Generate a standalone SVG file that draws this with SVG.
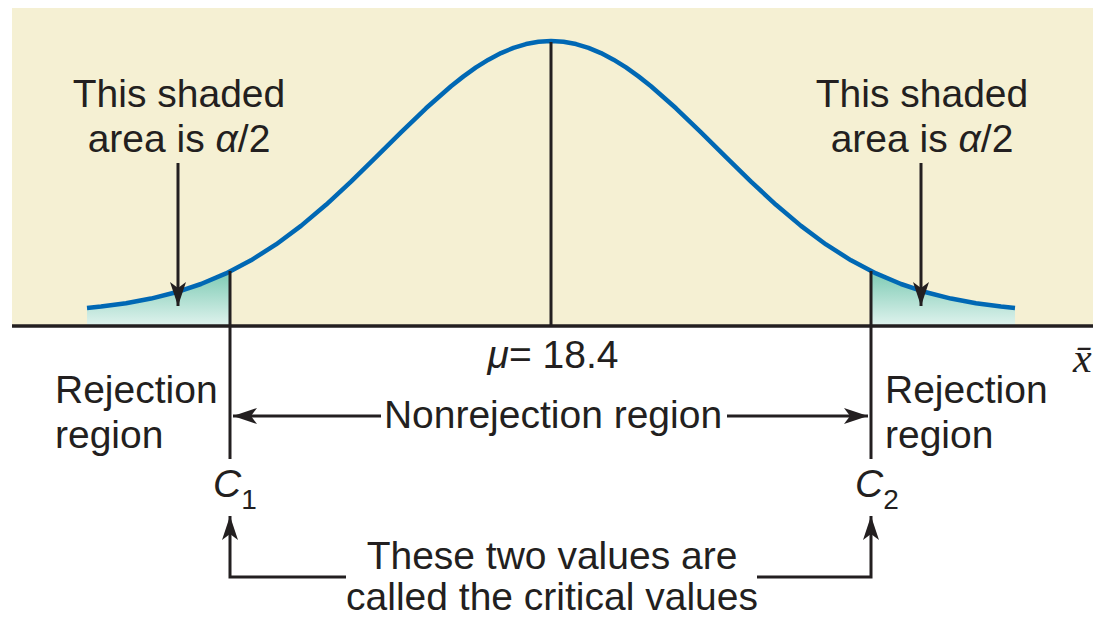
<svg xmlns="http://www.w3.org/2000/svg" width="1093" height="618" viewBox="0 0 1093 618">
<style>
.t{font-family:"Liberation Sans",Arial,sans-serif;font-size:39px;fill:#231f20}
.it{font-style:italic}
.ln{stroke:#231f20;stroke-width:3;fill:none}
</style>
<defs>
<linearGradient id="shade" x1="0" y1="0" x2="0" y2="1">
<stop offset="0" stop-color="#7ccab3"/>
<stop offset="1" stop-color="#e0f3ee"/>
</linearGradient>
<marker id="ah" viewBox="0 0 24 16" refX="24" refY="8" markerWidth="24" markerHeight="16" markerUnits="userSpaceOnUse" orient="auto">
<path d="M24,8 L0,0 L6,8 L0,16 Z" fill="#231f20"/>
</marker>
</defs>
<rect width="1093" height="618" fill="#ffffff"/>
<g id="background">
<rect x="12" y="8" width="1081" height="318" fill="#f5f0d3"/>
</g>
<g id="shaded-left">
<polygon fill="url(#shade)" points="87,326 87,308.03 101,306.6 126,303.23 151,298.57 176,292.27 201,284.01 226,273.43 230,271.3 230,326"/>
</g>
<g id="shaded-right">
<polygon fill="url(#shade)" points="871,326 871,270.8 876,273.43 901,284.01 926,292.27 951,298.57 976,303.23 1001,306.6 1015,308.03 1015,326"/>
</g>
<g id="curve">
<path fill="none" stroke="#0068b4" stroke-width="4.5" stroke-linejoin="round" d="M87,308.03 L101,306.6 L126,303.23 L151,298.57 L176,292.27 L201,284.01 L226,273.43 L251,260.31 L276,244.44 L301,225.86 L326,204.79 L351,181.66 L376,157.21 L401,132.37 L426,108.29 L451,86.23 L463.5,76.36 L476,67.45 L488.5,59.65 L501,53.09 L513.5,47.87 L526,44.07 L538.5,41.77 L551,41 L563.5,41.77 L576,44.07 L588.5,47.87 L601,53.09 L613.5,59.65 L626,67.45 L638.5,76.36 L651,86.23 L676,108.29 L701,132.37 L726,157.21 L751,181.66 L776,204.79 L801,225.86 L826,244.44 L851,260.31 L876,273.43 L901,284.01 L926,292.27 L951,298.57 L976,303.23 L1001,306.6 L1015,308.03"/>
</g>
<g id="axis">
<line x1="12" y1="326" x2="1093" y2="326" stroke="#231f20" stroke-width="3.5"/>
<text x="1073" y="372" font-family="'Liberation Serif',serif" font-style="italic" font-size="42" fill="#231f20">x̄</text>
</g>
<g id="connectors">
<line class="ln" x1="551" y1="42" x2="551" y2="326"/>
<line class="ln" x1="230" y1="271" x2="230" y2="459"/>
<line class="ln" x1="871" y1="271" x2="871" y2="459"/>
<line class="ln" x1="178" y1="163" x2="178" y2="306" marker-end="url(#ah)"/>
<line class="ln" x1="921" y1="163" x2="921" y2="306" marker-end="url(#ah)"/>
<line class="ln" x1="381" y1="416" x2="233" y2="416" marker-end="url(#ah)"/>
<line class="ln" x1="727" y1="416" x2="868" y2="416" marker-end="url(#ah)"/>
<polyline class="ln" points="346,577 230,577 230,516" marker-end="url(#ah)"/>
<polyline class="ln" points="757,577 871,577 871,516" marker-end="url(#ah)"/>
</g>
<g id="label-left-area">
<text class="t" x="179" y="107" text-anchor="middle">This shaded</text>
<text class="t" x="179" y="152" text-anchor="middle">area is <tspan class="it">α</tspan>/2</text>
</g>
<g id="label-right-area">
<text class="t" x="922" y="107" text-anchor="middle">This shaded</text>
<text class="t" x="922" y="152" text-anchor="middle">area is <tspan class="it">α</tspan>/2</text>
</g>
<g id="label-mu">
<text class="t" x="553" y="368" text-anchor="middle"><tspan class="it">μ</tspan>= 18.4</text>
</g>
<g id="label-rejection-left">
<text class="t" x="55" y="403">Rejection</text>
<text class="t" x="55" y="448">region</text>
</g>
<g id="label-rejection-right">
<text class="t" x="885" y="403">Rejection</text>
<text class="t" x="885" y="448">region</text>
</g>
<g id="label-nonrejection">
<text class="t" x="553" y="428" text-anchor="middle">Nonrejection region</text>
</g>
<g id="label-c1">
<text class="t" x="213" y="497" font-size="36"><tspan class="it">C</tspan><tspan font-size="28" dy="12">1</tspan></text>
</g>
<g id="label-c2">
<text class="t" x="855" y="497" font-size="36"><tspan class="it">C</tspan><tspan font-size="28" dy="12">2</tspan></text>
</g>
<g id="label-critical">
<text class="t" x="552" y="569" text-anchor="middle">These two values are</text>
<text class="t" x="552" y="610" text-anchor="middle">called the critical values</text>
</g>
</svg>
